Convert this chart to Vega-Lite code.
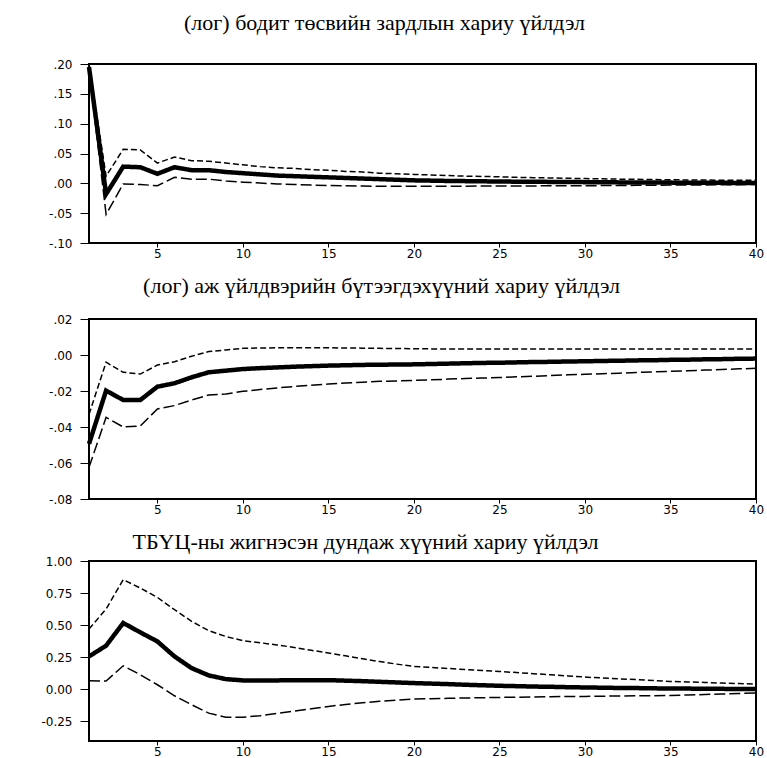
{
  "$schema": "https://vega.github.io/schema/vega-lite/v6.json",
  "padding": {"left": 8, "top": 10, "right": 5, "bottom": 0},
  "spacing": 10,
  "config": {
    "view": {"stroke": "black", "strokeWidth": 2},
    "title": {"font": "Liberation Serif", "fontSize": 22, "fontWeight": "normal", "color": "black", "anchor": "middle", "baseline": "bottom"},
    "axis": {"grid": false, "domain": false, "ticks": true, "tickColor": "black", "tickWidth": 1, "labelColor": "black", "labelFont": "DejaVu Sans", "labelFontSize": 12, "labelOverlap": false, "labelFlush": false, "labelBound": false},
    "axisY": {"tickSize": 9, "labelPadding": 8, "minExtent": 80, "maxExtent": 80},
    "axisX": {"tickSize": 4, "labelPadding": 1, "minExtent": 20, "maxExtent": 20},
    "line": {"color": "black"}
  },
  "datasets": {
    "p1": [
      {"t":1,"lo":0.19,"mid":0.195,"hi":0.2},
      {"t":2,"lo":-0.052,"mid":-0.018,"hi":0.012},
      {"t":3,"lo":-0.001,"mid":0.028,"hi":0.057},
      {"t":4,"lo":-0.002,"mid":0.027,"hi":0.056},
      {"t":5,"lo":-0.004,"mid":0.016,"hi":0.034},
      {"t":6,"lo":0.010,"mid":0.027,"hi":0.044},
      {"t":7,"lo":0.007,"mid":0.022,"hi":0.038},
      {"t":8,"lo":0.007,"mid":0.022,"hi":0.037},
      {"t":9,"lo":0.004,"mid":0.019,"hi":0.034},
      {"t":10,"lo":0.002,"mid":0.017,"hi":0.031},
      {"t":11,"lo":0.0005,"mid":0.015,"hi":0.028},
      {"t":12,"lo":-0.001,"mid":0.013,"hi":0.026},
      {"t":13,"lo":-0.002,"mid":0.012,"hi":0.025},
      {"t":14,"lo":-0.003,"mid":0.011,"hi":0.023},
      {"t":15,"lo":-0.0035,"mid":0.010,"hi":0.022},
      {"t":16,"lo":-0.004,"mid":0.009,"hi":0.020},
      {"t":17,"lo":-0.0045,"mid":0.008,"hi":0.019},
      {"t":18,"lo":-0.005,"mid":0.007,"hi":0.017},
      {"t":19,"lo":-0.005,"mid":0.006,"hi":0.016},
      {"t":20,"lo":-0.005,"mid":0.005,"hi":0.015},
      {"t":21,"lo":-0.005,"mid":0.0045,"hi":0.014},
      {"t":22,"lo":-0.005,"mid":0.004,"hi":0.013},
      {"t":23,"lo":-0.0048,"mid":0.0037,"hi":0.012},
      {"t":24,"lo":-0.0046,"mid":0.0034,"hi":0.0115},
      {"t":25,"lo":-0.0045,"mid":0.003,"hi":0.011},
      {"t":26,"lo":-0.0044,"mid":0.0028,"hi":0.010},
      {"t":27,"lo":-0.0043,"mid":0.0026,"hi":0.0095},
      {"t":28,"lo":-0.0042,"mid":0.0024,"hi":0.009},
      {"t":29,"lo":-0.0041,"mid":0.0022,"hi":0.0085},
      {"t":30,"lo":-0.004,"mid":0.002,"hi":0.008},
      {"t":31,"lo":-0.0038,"mid":0.0018,"hi":0.0075},
      {"t":32,"lo":-0.0036,"mid":0.0016,"hi":0.007},
      {"t":33,"lo":-0.0034,"mid":0.0015,"hi":0.0068},
      {"t":34,"lo":-0.0032,"mid":0.0013,"hi":0.0064},
      {"t":35,"lo":-0.003,"mid":0.0012,"hi":0.006},
      {"t":36,"lo":-0.0028,"mid":0.001,"hi":0.0057},
      {"t":37,"lo":-0.0026,"mid":0.0009,"hi":0.0055},
      {"t":38,"lo":-0.0024,"mid":0.0008,"hi":0.0053},
      {"t":39,"lo":-0.0022,"mid":0.0007,"hi":0.0051},
      {"t":40,"lo":-0.002,"mid":0.0006,"hi":0.005}
    ],
    "p2": [
      {"t":1,"lo":-0.0624,"mid":-0.0494,"hi":-0.033},
      {"t":2,"lo":-0.0346,"mid":-0.0198,"hi":-0.004},
      {"t":3,"lo":-0.040,"mid":-0.025,"hi":-0.0096},
      {"t":4,"lo":-0.0394,"mid":-0.025,"hi":-0.0106},
      {"t":5,"lo":-0.030,"mid":-0.0176,"hi":-0.0056},
      {"t":6,"lo":-0.0281,"mid":-0.0157,"hi":-0.0037},
      {"t":7,"lo":-0.025,"mid":-0.0124,"hi":-0.0007},
      {"t":8,"lo":-0.0222,"mid":-0.0096,"hi":0.0019},
      {"t":9,"lo":-0.0217,"mid":-0.0087,"hi":0.0028},
      {"t":10,"lo":-0.0202,"mid":-0.0078,"hi":0.0037},
      {"t":11,"lo":-0.0192,"mid":-0.0073,"hi":0.0039},
      {"t":12,"lo":-0.0183,"mid":-0.0069,"hi":0.004},
      {"t":13,"lo":-0.0175,"mid":-0.0065,"hi":0.004},
      {"t":14,"lo":-0.0168,"mid":-0.0062,"hi":0.004},
      {"t":15,"lo":-0.0161,"mid":-0.0059,"hi":0.004},
      {"t":16,"lo":-0.0156,"mid":-0.0057,"hi":0.0039},
      {"t":17,"lo":-0.0151,"mid":-0.0055,"hi":0.0038},
      {"t":18,"lo":-0.0146,"mid":-0.0054,"hi":0.0037},
      {"t":19,"lo":-0.0144,"mid":-0.0053,"hi":0.0036},
      {"t":20,"lo":-0.0141,"mid":-0.0052,"hi":0.0035},
      {"t":21,"lo":-0.0138,"mid":-0.005,"hi":0.0034},
      {"t":22,"lo":-0.0134,"mid":-0.0048,"hi":0.0034},
      {"t":23,"lo":-0.0131,"mid":-0.0046,"hi":0.0034},
      {"t":24,"lo":-0.0128,"mid":-0.0044,"hi":0.0034},
      {"t":25,"lo":-0.0125,"mid":-0.0043,"hi":0.0034},
      {"t":26,"lo":-0.0121,"mid":-0.0041,"hi":0.0034},
      {"t":27,"lo":-0.0118,"mid":-0.0039,"hi":0.0034},
      {"t":28,"lo":-0.0114,"mid":-0.0038,"hi":0.0034},
      {"t":29,"lo":-0.011,"mid":-0.0036,"hi":0.0034},
      {"t":30,"lo":-0.0107,"mid":-0.0035,"hi":0.0034},
      {"t":31,"lo":-0.0104,"mid":-0.0033,"hi":0.0033},
      {"t":32,"lo":-0.0101,"mid":-0.0032,"hi":0.0033},
      {"t":33,"lo":-0.0097,"mid":-0.003,"hi":0.0033},
      {"t":34,"lo":-0.0094,"mid":-0.0029,"hi":0.0033},
      {"t":35,"lo":-0.0091,"mid":-0.0027,"hi":0.0033},
      {"t":36,"lo":-0.0088,"mid":-0.0026,"hi":0.0033},
      {"t":37,"lo":-0.0084,"mid":-0.0024,"hi":0.0033},
      {"t":38,"lo":-0.0081,"mid":-0.0023,"hi":0.0033},
      {"t":39,"lo":-0.0077,"mid":-0.0021,"hi":0.0033},
      {"t":40,"lo":-0.0074,"mid":-0.002,"hi":0.0033}
    ],
    "p3": [
      {"t":1,"lo":0.065,"mid":0.255,"hi":0.469},
      {"t":2,"lo":0.0625,"mid":0.339,"hi":0.625},
      {"t":3,"lo":0.182,"mid":0.516,"hi":0.854},
      {"t":4,"lo":0.112,"mid":0.443,"hi":0.789},
      {"t":5,"lo":0.034,"mid":0.372,"hi":0.716},
      {"t":6,"lo":-0.052,"mid":0.255,"hi":0.620},
      {"t":7,"lo":-0.122,"mid":0.164,"hi":0.529},
      {"t":8,"lo":-0.1875,"mid":0.107,"hi":0.456},
      {"t":9,"lo":-0.219,"mid":0.078,"hi":0.411},
      {"t":10,"lo":-0.219,"mid":0.068,"hi":0.378},
      {"t":11,"lo":-0.208,"mid":0.067,"hi":0.362},
      {"t":12,"lo":-0.19,"mid":0.068,"hi":0.345},
      {"t":13,"lo":-0.172,"mid":0.07,"hi":0.325},
      {"t":14,"lo":-0.153,"mid":0.07,"hi":0.303},
      {"t":15,"lo":-0.135,"mid":0.07,"hi":0.282},
      {"t":16,"lo":-0.120,"mid":0.066,"hi":0.260},
      {"t":17,"lo":-0.106,"mid":0.062,"hi":0.237},
      {"t":18,"lo":-0.095,"mid":0.057,"hi":0.215},
      {"t":19,"lo":-0.086,"mid":0.052,"hi":0.195},
      {"t":20,"lo":-0.078,"mid":0.047,"hi":0.177},
      {"t":21,"lo":-0.075,"mid":0.043,"hi":0.169},
      {"t":22,"lo":-0.072,"mid":0.039,"hi":0.161},
      {"t":23,"lo":-0.069,"mid":0.034,"hi":0.153},
      {"t":24,"lo":-0.067,"mid":0.030,"hi":0.146},
      {"t":25,"lo":-0.065,"mid":0.026,"hi":0.138},
      {"t":26,"lo":-0.063,"mid":0.023,"hi":0.129},
      {"t":27,"lo":-0.061,"mid":0.020,"hi":0.120},
      {"t":28,"lo":-0.059,"mid":0.018,"hi":0.112},
      {"t":29,"lo":-0.058,"mid":0.015,"hi":0.103},
      {"t":30,"lo":-0.057,"mid":0.013,"hi":0.094},
      {"t":31,"lo":-0.055,"mid":0.011,"hi":0.087},
      {"t":32,"lo":-0.054,"mid":0.009,"hi":0.080},
      {"t":33,"lo":-0.052,"mid":0.008,"hi":0.074},
      {"t":34,"lo":-0.051,"mid":0.006,"hi":0.067},
      {"t":35,"lo":-0.049,"mid":0.005,"hi":0.060},
      {"t":36,"lo":-0.046,"mid":0.004,"hi":0.056},
      {"t":37,"lo":-0.042,"mid":0.003,"hi":0.052},
      {"t":38,"lo":-0.038,"mid":0.002,"hi":0.047},
      {"t":39,"lo":-0.034,"mid":0.001,"hi":0.043},
      {"t":40,"lo":-0.031,"mid":0.0,"hi":0.039}
    ]
  },
  "vconcat": [
    {
      "title": {"text": "(лог) бодит төсвийн зардлын хариу үйлдэл", "offset": 23, "dx": -38},
      "width": 667, "height": 179,
      "data": {"name": "p1"},
      "transform": [{"fold": ["hi", "lo", "mid"], "as": ["band", "v"]}],
      "mark": {"type": "line", "color": "black"},
      "encoding": {
        "x": {"field": "t", "type": "quantitative", "title": null, "scale": {"domain": [1, 40], "nice": false, "zero": false}, "axis": {"values": [5,10,15,20,25,30,35,40], "format": "d"}},
        "y": {"field": "v", "type": "quantitative", "title": null, "scale": {"domain": [-0.1, 0.2], "nice": false, "zero": false},
          "axis": {"values": [-0.1,-0.05,0,0.05,0.1,0.15,0.2], "labelExpr": "(datum.value < 0 ? '-' : '') + replace(format(abs(datum.value), '.2f'), '0.', '.')"}},
        "strokeDash": {"field": "band", "type": "nominal", "scale": {"domain": ["hi", "lo", "mid"], "range": [[6, 3], [11, 4], [1, 0]]}, "legend": null},
        "strokeWidth": {"field": "band", "type": "nominal", "scale": {"type": "ordinal", "domain": ["hi", "lo", "mid"], "range": [1.5, 1.5, 4.5]}, "legend": null}
      }
    },
    {
      "title": {"text": "(лог) аж үйлдвэрийн бүтээгдэхүүний хариу үйлдэл", "offset": 15, "dx": -41},
      "width": 667, "height": 180,
      "data": {"name": "p2"},
      "transform": [{"fold": ["hi", "lo", "mid"], "as": ["band", "v"]}],
      "mark": {"type": "line", "color": "black"},
      "encoding": {
        "x": {"field": "t", "type": "quantitative", "title": null, "scale": {"domain": [1, 40], "nice": false, "zero": false}, "axis": {"values": [5,10,15,20,25,30,35,40], "format": "d"}},
        "y": {"field": "v", "type": "quantitative", "title": null, "scale": {"domain": [-0.08, 0.02], "nice": false, "zero": false},
          "axis": {"values": [-0.08,-0.06,-0.04,-0.02,0,0.02], "labelExpr": "(datum.value < 0 ? '-' : '') + replace(format(abs(datum.value), '.2f'), '0.', '.')"}},
        "strokeDash": {"field": "band", "type": "nominal", "scale": {"domain": ["hi", "lo", "mid"], "range": [[6, 3], [11, 4], [1, 0]]}, "legend": null},
        "strokeWidth": {"field": "band", "type": "nominal", "scale": {"type": "ordinal", "domain": ["hi", "lo", "mid"], "range": [1.5, 1.5, 4.5]}, "legend": null}
      }
    },
    {
      "title": {"text": "ТБҮЦ-ны жигнэсэн дундаж хүүний хариу үйлдэл", "offset": 1, "dx": -57},
      "width": 667, "height": 180,
      "data": {"name": "p3"},
      "transform": [{"fold": ["hi", "lo", "mid"], "as": ["band", "v"]}],
      "mark": {"type": "line", "color": "black"},
      "encoding": {
        "x": {"field": "t", "type": "quantitative", "title": null, "scale": {"domain": [1, 40], "nice": false, "zero": false}, "axis": {"values": [5,10,15,20,25,30,35,40], "format": "d"}},
        "y": {"field": "v", "type": "quantitative", "title": null, "scale": {"domain": [-0.405, 1.0], "nice": false, "zero": false},
          "axis": {"values": [-0.25,0,0.25,0.5,0.75,1.0], "labelExpr": "(datum.value < 0 ? '-' : '') + format(abs(datum.value), '.2f')"}},
        "strokeDash": {"field": "band", "type": "nominal", "scale": {"domain": ["hi", "lo", "mid"], "range": [[6, 3], [11, 4], [1, 0]]}, "legend": null},
        "strokeWidth": {"field": "band", "type": "nominal", "scale": {"type": "ordinal", "domain": ["hi", "lo", "mid"], "range": [1.5, 1.5, 4.5]}, "legend": null}
      }
    }
  ]
}
